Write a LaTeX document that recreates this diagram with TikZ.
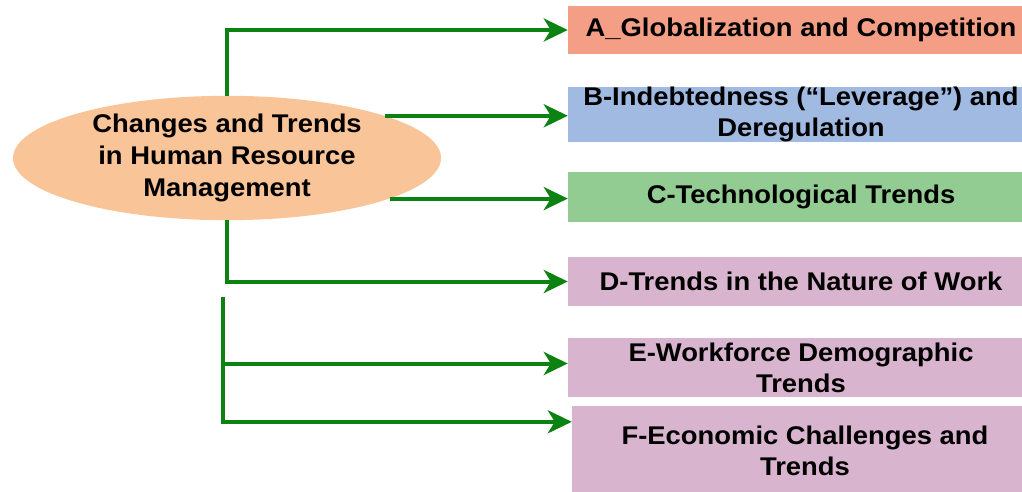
\documentclass[tikz,border=0pt]{standalone}
\usepackage{fontspec}
\setmainfont{Liberation Sans}[FakeStretch=1.07]
\usetikzlibrary{shapes.geometric, positioning, arrows.meta, calc}
\definecolor{flowGreen}{RGB}{12,130,18}
\definecolor{boxA}{RGB}{243,158,133}
\definecolor{boxB}{RGB}{160,186,226}
\definecolor{boxC}{RGB}{146,204,146}
\definecolor{boxD}{RGB}{216,180,206}
\definecolor{hrmFill}{RGB}{248,196,152}
\tikzset{
    trendbox/.style={
        rectangle,
        minimum width=466pt,
        inner sep=0pt,
        align=center,
        font=\bfseries\fontsize{25.6}{31}\selectfont
    },
    hrmnode/.style={
        ellipse,
        fill=hrmFill,
        minimum width=428pt,
        minimum height=120pt,
        inner sep=0pt,
        align=center,
        font=\bfseries\fontsize{25.6}{32}\selectfont
    },
    flow/.style={
        -{Stealth[length=24pt,width=23pt,inset=7pt]},
        line width=4pt,
        draw=flowGreen
    }
}

\begin{document}
\begin{tikzpicture}[x=1pt, y=-1pt]
        \clip (0,0) rectangle (1022,491);
        \node[hrmnode] (hrm) at (227,158) {Changes and Trends\\in Human Resource\\Management};
        \node[trendbox, fill=boxA, minimum height=48pt] (A) at (801,30) {A\_Globalization and Competition};
        \node[trendbox, fill=boxB, minimum height=49pt] (B) at (801,114.5) {B-Indebtedness (“Leverage”) and\\Deregulation};
        \node[trendbox, fill=boxC, minimum height=50pt] (C) at (801,197) {C-Technological Trends};
        \node[trendbox, fill=boxD, minimum height=49pt] (D) at (801,281.5) {D-Trends in the Nature of Work};
        \node[trendbox, fill=boxD, minimum height=59pt] (E) at (801,367.5) {E-Workforce Demographic\\Trends};
        \node[trendbox, fill=boxD, minimum height=90pt] (F) at (805,451) {F-Economic Challenges and\\Trends};
        \coordinate (split) at (223,297);

        \draw[flow] (hrm.north) |- (A.west);
        \draw[flow] (hrm.15) -- (hrm.15 -| B.west);
        \draw[flow] (hrm.-14) -- (hrm.-14 -| C.west);
        \draw[flow] (hrm.south) |- (D.west);
        \draw[flow] (split) |- ($(F.north west)+(0,16)$);
        \draw[flow] ($(split |- E.west)+(0,-4)$) -- ($(E.west)+(0,-4)$);
    \end{tikzpicture}
\end{document}
